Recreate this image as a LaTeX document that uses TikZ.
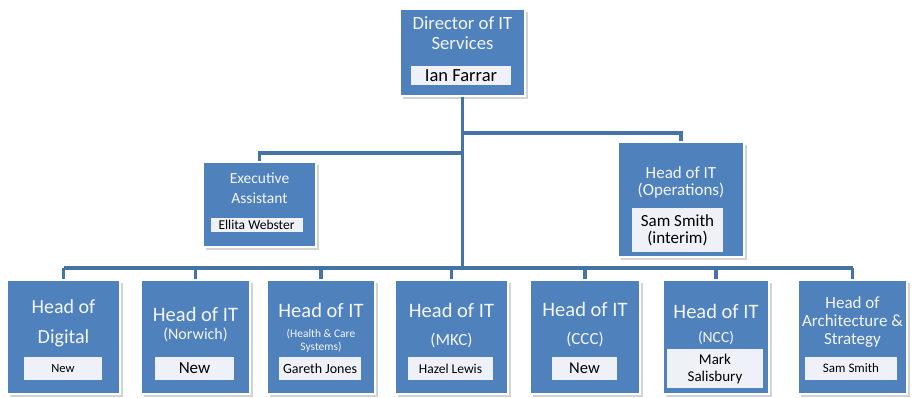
\documentclass[tikz,border=0pt]{standalone}
\usepackage{fontspec}
\setmainfont{Carlito}
\usetikzlibrary{shadows}

\definecolor{boxblue}{HTML}{4F81BD}
\definecolor{linkblue}{HTML}{4572A7}
\definecolor{namefill}{HTML}{EEF2F8}
\definecolor{titlewhite}{HTML}{F4F6FA}

\newcommand{\fs}[2]{\fontsize{#1}{#2}\selectfont}

\begin{document}
\begin{tikzpicture}[x=1pt, y=-1pt,
    orgbox/.style={fill=boxblue, draw=white, line width=1.2pt, inner sep=0pt,
        drop shadow={shadow xshift=2.5pt, shadow yshift=-2.5pt, opacity=.35}},
    namebox/.style={fill=namefill, draw=none, inner sep=0pt, align=center, text=black},
    headtxt/.style={text=titlewhite, inner sep=0pt, align=center},
    link/.style={draw=linkblue, line width=3.2pt}]
    \useasboundingbox (0,0) rectangle (914,397);

    % boxes
    \node[orgbox, minimum width=125pt, minimum height=87pt] (dir) at (462.5,52.5) {};
    \node[orgbox, minimum width=113pt, minimum height=85pt] (exec) at (259.5,204.5) {};
    \node[orgbox, minimum width=126pt, minimum height=115pt] (ops) at (681,199.5) {};
    \node[orgbox, minimum width=113pt, minimum height=114pt] (digital) at (63.5,337) {};
    \node[orgbox, minimum width=109pt, minimum height=114pt] (norwich) at (195.5,337) {};
    \node[orgbox, minimum width=108pt, minimum height=114pt] (health) at (321,337) {};
    \node[orgbox, minimum width=113pt, minimum height=114pt] (mkc) at (451.5,337) {};
    \node[orgbox, minimum width=110pt, minimum height=114pt] (ccc) at (585,337) {};
    \node[orgbox, minimum width=106pt, minimum height=114pt] (ncc) at (716,337) {};
    \node[orgbox, minimum width=109pt, minimum height=114pt] (arch) at (852.5,337) {};

    % connectors
    \coordinate (busL) at (63.5,268);
    \coordinate (busR) at (852.5,268);
    \coordinate (tapE) at (462.5,153);
    \coordinate (tapO) at (462.5,133);
    \draw[link] (dir.south) -- (dir.south |- busL);
    \draw[link] (busL) -- (busR);
    \draw[link] (tapE) -| (exec.north);
    \draw[link] (tapO) -| (ops.north);
    \foreach \b in {digital,norwich,health,mkc,ccc,ncc,arch}
        \draw[link] (\b.north) -- (\b.north |- busL);

    % titles
    \node[headtxt, font=\fs{18.7}{20}] (dirT) at (462.5,33) {Director of IT\\Services};
    \node[headtxt, font=\fs{15.5}{20}] (execT) at (259.5,188) {Executive\\Assistant};
    \node[headtxt, font=\fs{17}{17}] (opsT) at (681,182.5) {Head of IT\\(Operations)};
    \node[headtxt, font=\fs{20}{30}] (digitalT) at (63.5,323) {Head of\\Digital};
    \node[headtxt, font=\fs{20.5}{21}] (norwichT) at (195.5,314) {Head of IT};
    \node[headtxt, font=\fs{16}{17}] (norwichS) at (195.5,335) {(Norwich)};
    \node[headtxt, font=\fs{20.5}{21}] (healthT) at (321,310) {Head of IT};
    \node[headtxt, font=\fs{11.5}{13}] (healthS) at (321,340.5) {(Health \& Care\\Systems)};
    \node[headtxt, font=\fs{20.5}{21}] (mkcT) at (451.5,310) {Head of IT};
    \node[headtxt, font=\fs{17}{18}] (mkcS) at (451.5,340) {(MKC)};
    \node[headtxt, font=\fs{20.5}{21}] (cccT) at (585,309) {Head of IT};
    \node[headtxt, font=\fs{17}{18}] (cccS) at (585,339) {(CCC)};
    \node[headtxt, font=\fs{20.5}{21}] (nccT) at (716,311) {Head of IT};
    \node[headtxt, font=\fs{15.5}{17}] (nccS) at (716,338) {(NCC)};
    \node[headtxt, font=\fs{17}{18}] (archT) at (852.5,322) {Head of\\Architecture \&\\Strategy};

    % names
    \node[namebox, minimum width=100pt, minimum height=19pt, font=\fs{18.5}{19}] (dirN) at (461,75.5) {Ian Farrar};
    \node[namebox, minimum width=92pt, minimum height=14pt, font=\fs{13.5}{14}] (execN) at (256.5,224.5) {Ellita Webster};
    \node[namebox, minimum width=91pt, minimum height=44pt, font=\fs{17}{17}] (opsN) at (677.5,230) {Sam Smith\\(interim)};
    \node[namebox, minimum width=78pt, minimum height=23pt, font=\fs{12.5}{13}] (digitalN) at (63,368.5) {New};
    \node[namebox, minimum width=79pt, minimum height=23pt, font=\fs{17}{17}] (norwichN) at (194.5,368.5) {New};
    \node[namebox, minimum width=82pt, minimum height=23pt, font=\fs{14}{14}] (healthN) at (320,368.5) {Gareth Jones};
    \node[namebox, minimum width=85pt, minimum height=23pt, font=\fs{13.5}{14}] (mkcN) at (450.5,368.5) {Hazel Lewis};
    \node[namebox, minimum width=65pt, minimum height=23pt, font=\fs{16.5}{17}] (cccN) at (584.5,368.5) {New};
    \node[namebox, minimum width=96pt, minimum height=39pt, font=\fs{15}{17}] (nccN) at (715,368.5) {Mark\\Salisbury};
    \node[namebox, minimum width=92pt, minimum height=23pt, font=\fs{13}{13}] (archN) at (851,368.5) {Sam Smith};
\end{tikzpicture}
\end{document}
